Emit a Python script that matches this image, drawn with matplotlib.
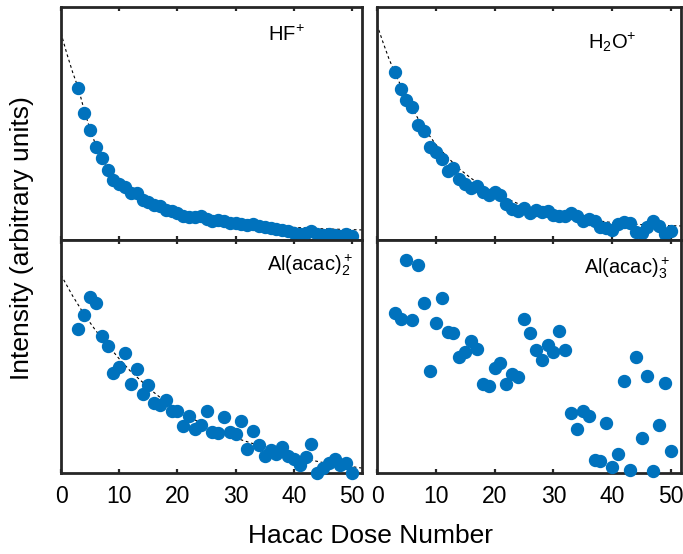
import matplotlib

matplotlib.use("Agg")
import matplotlib.pyplot as plt  # noqa: E402

plt.rcParams["font.family"] = ["Liberation Sans", "DejaVu Sans"]
plt.rcParams["mathtext.fontset"] = "custom"
plt.rcParams["mathtext.rm"] = "Liberation Sans"

# --- data (normalised intensity) ---
dose = list(range(3, 51))

hf = [0.651, 0.546, 0.471, 0.399, 0.353, 0.302, 0.256, 0.241, 0.227, 0.201,
      0.201, 0.170, 0.162, 0.152, 0.148, 0.129, 0.124, 0.115, 0.105, 0.098,
      0.098, 0.101, 0.091, 0.083, 0.086, 0.080, 0.075, 0.072, 0.069, 0.066,
      0.069, 0.060, 0.055, 0.050, 0.046, 0.043, 0.037, 0.029, 0.026, 0.029,
      0.040, 0.026, 0.023, 0.026, 0.023, 0.019, 0.026, 0.019]

h2o = [0.723, 0.647, 0.603, 0.569, 0.493, 0.468, 0.399, 0.378, 0.349, 0.296,
       0.310, 0.263, 0.241, 0.224, 0.230, 0.205, 0.195, 0.205, 0.195, 0.155,
       0.134, 0.124, 0.138, 0.115, 0.129, 0.119, 0.124, 0.109, 0.105, 0.101,
       0.115, 0.105, 0.083, 0.091, 0.083, 0.057, 0.050, 0.043, 0.069, 0.076,
       0.072, 0.033, 0.029, 0.055, 0.080, 0.062, 0.026, 0.040]

al2 = [0.616, 0.677, 0.754, 0.728, 0.590, 0.546, 0.430, 0.457, 0.517, 0.381,
       0.445, 0.341, 0.377, 0.300, 0.290, 0.312, 0.268, 0.265, 0.203, 0.246,
       0.188, 0.207, 0.265, 0.178, 0.170, 0.239, 0.178, 0.167, 0.222, 0.101,
       0.181, 0.120, 0.072, 0.097, 0.080, 0.112, 0.072, 0.062, 0.036, 0.068,
       0.123, 0.000, 0.022, 0.043, 0.062, 0.036, 0.043, 0.000]

al3 = [0.688, 0.662, 0.916, 0.657, 0.891, 0.728, 0.438, 0.645, 0.751, 0.606,
       0.599, 0.500, 0.519, 0.568, 0.533, 0.381, 0.372, 0.449, 0.474, 0.380,
       0.423, 0.413, 0.659, 0.599, 0.526, 0.483, 0.548, 0.519, 0.609, 0.526,
       0.258, 0.188, 0.265, 0.246, 0.054, 0.051, 0.214, 0.025, 0.083, 0.394,
       0.014, 0.500, 0.149, 0.416, 0.010, 0.206, 0.388, 0.094]

# dashed fit curves, sampled from the figure
fit_x = [0, 1, 2, 3, 4, 5, 6, 7, 8, 10, 12, 14, 16, 18, 20, 25, 30, 35, 40, 45, 52]
hf_fit = [0.888, 0.80, 0.72, 0.65, 0.555, 0.475, 0.405, 0.35, 0.305, 0.245,
          0.205, 0.175, 0.152, 0.133, 0.118, 0.092, 0.075, 0.063, 0.054, 0.048, 0.043]
h2o_fit = [0.924, 0.85, 0.78, 0.72, 0.665, 0.61, 0.565, 0.52, 0.48, 0.41,
           0.355, 0.305, 0.265, 0.23, 0.20, 0.145, 0.112, 0.09, 0.075, 0.066, 0.06]
al2_fit = [0.85, 0.805, 0.76, 0.72, 0.68, 0.645, 0.61, 0.58, 0.55, 0.49,
           0.435, 0.39, 0.345, 0.305, 0.27, 0.20, 0.15, 0.11, 0.07, 0.045, 0.02]

labels = ["HF$^{\\mathregular{+}}$", "H$_{\\mathregular{2}}$O$^{\\mathregular{+}}$",
          "Al(acac)$\\mathregular{_2^+}$", "Al(acac)$\\mathregular{_3^+}$"]

BLUE = "#0072BD"
EDGE = "#262626"

fig = plt.figure(figsize=(6.83, 5.54), dpi=100)
lx, rx = 61 / 683, 377 / 683
lw, rw = 301 / 683, 304 / 683
ty, by = 1 - 240 / 554, 1 - 473 / 554
h = 233 / 554

panels = [
    ((lx, ty, lw, h), hf, hf_fit, labels[0], (0.81, 0.88), False),
    ((rx, ty, rw, h), h2o, h2o_fit, labels[1], (0.855, 0.85), False),
    ((lx, by, lw, h), al2, al2_fit, labels[2], (0.97, 0.89), True),
    ((rx, by, rw, h), al3, None, labels[3], (0.965, 0.88), True),
]

for rect, ys, fit, lab, (tx, tyy), bottom in panels:
    ax = fig.add_axes(rect)
    if fit is not None:
        ax.plot(fit_x, fit, "--", color="black", lw=0.8, dashes=(2.5, 2.5), zorder=2)
    ax.plot(dose, ys, "o", color=BLUE, ms=8.6, mec=BLUE, clip_on=False, zorder=3)
    ax.set_xlim(0, 51.7)
    ax.set_ylim(0, 1)
    ax.set_xticks([0, 10, 20, 30, 40, 50])
    ax.set_yticks([])
    ax.tick_params(axis="x", direction="in", top=True, length=3, width=1.6,
                   color=EDGE, labelsize=16.5, pad=8.5, labelbottom=bottom)
    for s in ax.spines.values():
        s.set_linewidth(2.0)
        s.set_color(EDGE)
    ax.text(tx, tyy, lab, transform=ax.transAxes, ha="right", va="center", fontsize=14.5)

fig.text(0.032, 0.57, "Intensity (arbitrary units)", rotation=90,
         ha="center", va="center", fontsize=19)
fig.text(0.543, 0.033, "Hacac Dose Number", ha="center", va="center", fontsize=19)

fig.savefig("out.png", dpi=100)
